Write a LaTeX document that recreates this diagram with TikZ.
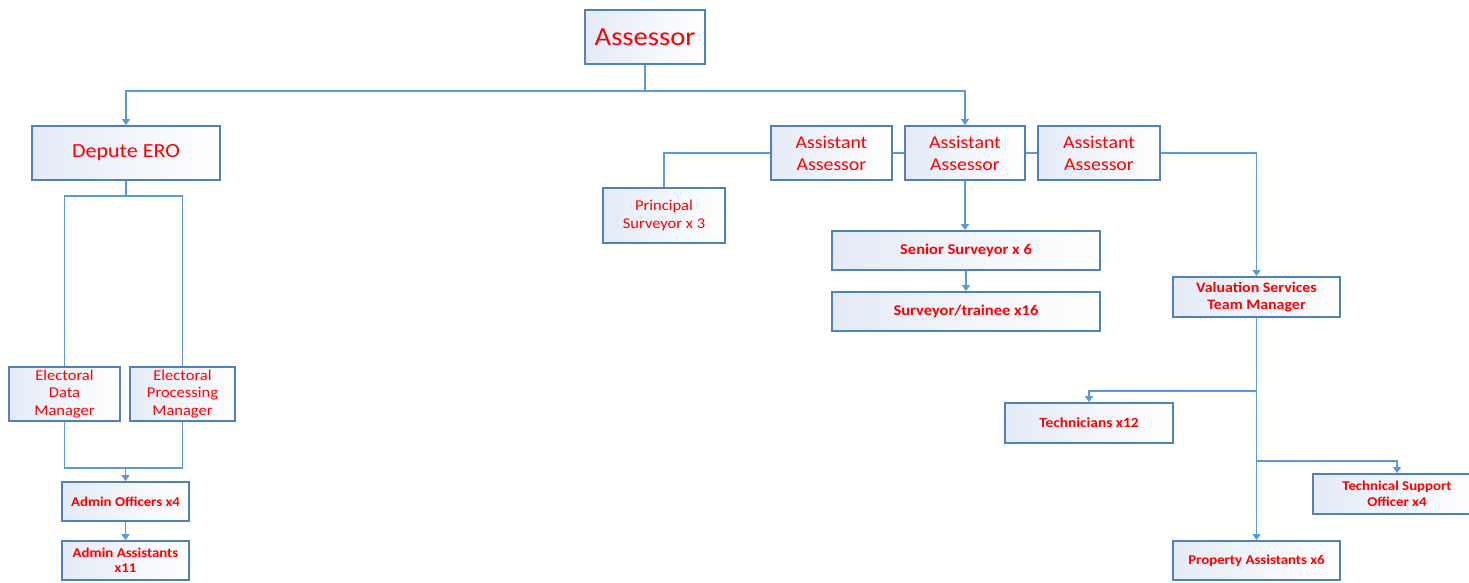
\documentclass[tikz,border=0pt]{standalone}
\usepackage{fontspec}
\setmainfont[FakeStretch=1.1]{Carlito}
\usetikzlibrary{arrows.meta}
\definecolor{boxblue}{RGB}{79,129,189}
\definecolor{lineblue}{RGB}{91,155,213}
\definecolor{fillblue}{RGB}{228,235,246}
\definecolor{txtred}{RGB}{255,0,0}
\newcommand{\fs}[2]{\fontsize{#1}{#2}\selectfont}
\tikzset{
  box/.style={draw=boxblue, line width=1.8pt, left color=fillblue, right color=white,
    text=txtred, align=center, inner sep=0pt, anchor=center},
  conn/.style={draw=lineblue, line width=1.4pt},
  arr/.style={conn, -{Triangle[width=8pt,length=6pt]}},
}
\begin{document}
\begin{tikzpicture}[x=1pt,y=-1pt]
\clip (0,0) rectangle (1469,582);
\fill[white] (0,0) rectangle (1469,582);
% nodes
\node[box, minimum width=120, minimum height=54, font=\fs{26}{30}] (asr) at (645,37) {Assessor};
\node[box, minimum width=188, minimum height=54, font=\fs{20}{24}] (dero) at (126,153) {Depute ERO};
\node[box, minimum width=111, minimum height=54, font=\fs{15}{17.5}] (edm) at (64.5,394) {Electoral\\Data\\Manager};
\node[box, minimum width=105, minimum height=54, font=\fs{15}{17.5}] (epm) at (182.5,394) {Electoral\\Processing\\Manager};
\node[box, minimum width=127, minimum height=39, font=\fs{13.5}{15}\bfseries] (ao) at (125.5,501.5) {Admin Officers x4};
\node[box, minimum width=127, minimum height=39, font=\fs{13.5}{15}\bfseries] (aas) at (125.5,560.5) {Admin Assistants\\x11};
\node[box, minimum width=121, minimum height=54, font=\fs{18}{22}] (aal) at (831.5,153) {Assistant\\Assessor};
\node[box, minimum width=120, minimum height=54, font=\fs{18}{22}] (aam) at (965,153) {Assistant\\Assessor};
\node[box, minimum width=122, minimum height=54, font=\fs{18}{22}] (aar) at (1099,153) {Assistant\\Assessor};
\node[box, minimum width=122, minimum height=55, font=\fs{15}{18}] (ps) at (664,215.5) {Principal\\Surveyor x 3};
\node[box, minimum width=268, minimum height=39, font=\fs{15}{15}\bfseries] (ss) at (966,250.5) {Senior Surveyor x 6};
\node[box, minimum width=268, minimum height=39, font=\fs{15}{15}\bfseries] (st) at (966,311.5) {Surveyor/trainee x16};
\node[box, minimum width=167, minimum height=40, font=\fs{14.5}{17}\bfseries] (vs) at (1256.5,297) {Valuation Services\\Team Manager};
\node[box, minimum width=168, minimum height=40, font=\fs{14}{15}\bfseries] (tech) at (1089,423) {Technicians x12};
\node[box, minimum width=168, minimum height=40, font=\fs{13.5}{16}\bfseries] (tso) at (1397,494) {Technical Support\\Officer x4};
\node[box, minimum width=167, minimum height=39, font=\fs{13.5}{15}\bfseries] (pa) at (1256.5,560.5) {Property Assistants x6};
% junctions
\coordinate (j1) at (645,91);
\coordinate (j2) at (126,196);
\coordinate (j3) at (125.5,468);
\coordinate (j4) at (1256.5,391);
\coordinate (j5) at (1256.5,461);
% connectors
\draw[conn] (asr.south) -- (j1);
\draw[arr] (j1) -| (dero.north);
\draw[arr] (j1) -| (aam.north);
\draw[conn] (dero.south) -- (j2);
\draw[conn] (j2) -| (edm.north);
\draw[conn] (j2) -| (epm.north);
\draw[conn] (edm.south) |- (j3) -| (epm.south);
\draw[arr] (j3) -- (ao.north);
\draw[arr] (ao.south) -- (aas.north);
\draw[conn] (aal.west) -| (ps.north);
\draw[conn] (aal.east) -- (aam.west);
\draw[conn] (aam.east) -- (aar.west);
\draw[arr] (aar.east) -| (vs.north);
\draw[arr] (aam.south) -- (aam.south |- ss.north);
\draw[arr] (ss.south) -- (st.north);
\draw[arr] (vs.south) -- (pa.north);
\draw[arr] (j4) -| (tech.north);
\draw[arr] (j5) -| (tso.north);
\end{tikzpicture}
\end{document}
